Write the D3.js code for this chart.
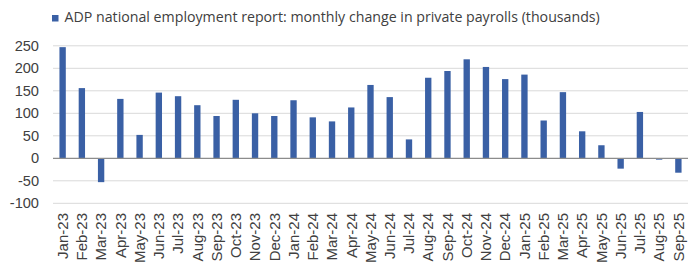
<!DOCTYPE html>
<html><head><meta charset="utf-8">
<script src="https://cdn.jsdelivr.net/npm/d3@7"></script>
<style>body{margin:0;background:#fff;}svg{display:block;}</style>
</head><body>
<svg id="c" width="700" height="272"></svg>
<script>
const months = ["Jan-23","Feb-23","Mar-23","Apr-23","May-23","Jun-23","Jul-23","Aug-23","Sep-23","Oct-23","Nov-23","Dec-23",
"Jan-24","Feb-24","Mar-24","Apr-24","May-24","Jun-24","Jul-24","Aug-24","Sep-24","Oct-24","Nov-24","Dec-24",
"Jan-25","Feb-25","Mar-25","Apr-25","May-25","Jun-25","Jul-25","Aug-25","Sep-25"];
const payrolls = [247,156,-53,132,52,146,138,118,94,130,100,94,
129,91,82,113,163,136,42,179,194,220,203,176,
186,84,147,60,29,-23,103,-3,-32];
const yTicks = [250,200,150,100,50,0,-50,-100];
const legendLabel = "ADP national employment report: monthly change in private payrolls (thousands)";

const svg = d3.select("#c");
const x = d3.scaleBand().domain(months).range([53, 688]).paddingInner(0.67).paddingOuter(0.335);
const y = d3.scaleLinear().domain([-100, 250]).range([203.3, 45.8]);
const barColor = "#3a60a5";

// gridlines
svg.append("g").selectAll("line").data(yTicks.filter(d => d !== 0)).join("line")
  .attr("x1", 53).attr("x2", 688)
  .attr("y1", d => y(d)).attr("y2", d => y(d))
  .attr("stroke", "#d9d9d9").attr("stroke-width", 1);

// y tick labels
svg.append("g").selectAll("text").data(yTicks).join("text")
  .attr("x", 39).attr("y", d => y(d)).attr("dy", "0.35em")
  .attr("text-anchor", "end")
  .attr("font-family", "Liberation Sans, Arial, sans-serif").attr("font-size", 14.6)
  .attr("fill", "#404040").text(d => d);

// bars
svg.append("g").selectAll("rect").data(months).join("rect")
  .attr("x", (d) => x(d))
  .attr("width", x.bandwidth())
  .attr("y", (d, i) => y(Math.max(0, payrolls[i])))
  .attr("height", (d, i) => Math.abs(y(payrolls[i]) - y(0)))
  .attr("fill", barColor);

// zero line
svg.append("line").attr("x1", 53).attr("x2", 688).attr("y1", y(0)).attr("y2", y(0))
  .attr("stroke", "#8c8c8c").attr("stroke-width", 1.3);

// x labels
svg.append("g").selectAll("text").data(months).join("text")
  .attr("transform", d => `translate(${x(d) + x.bandwidth()/2},213) rotate(-90)`)
  .attr("dy", "0.35em").attr("text-anchor", "end")
  .attr("font-family", "Liberation Sans, Arial, sans-serif").attr("font-size", 15)
  .attr("fill", "#404040").text(d => d);

// legend
svg.append("rect").attr("x", 52).attr("y", 15).attr("width", 6.5).attr("height", 6.5).attr("fill", barColor);
svg.append("text").attr("x", 64.5).attr("y", 22)
  .attr("font-family", "Open Sans, sans-serif").attr("font-size", 14.2)
  .attr("fill", "#404040").text(legendLabel);
</script>
</body></html>
